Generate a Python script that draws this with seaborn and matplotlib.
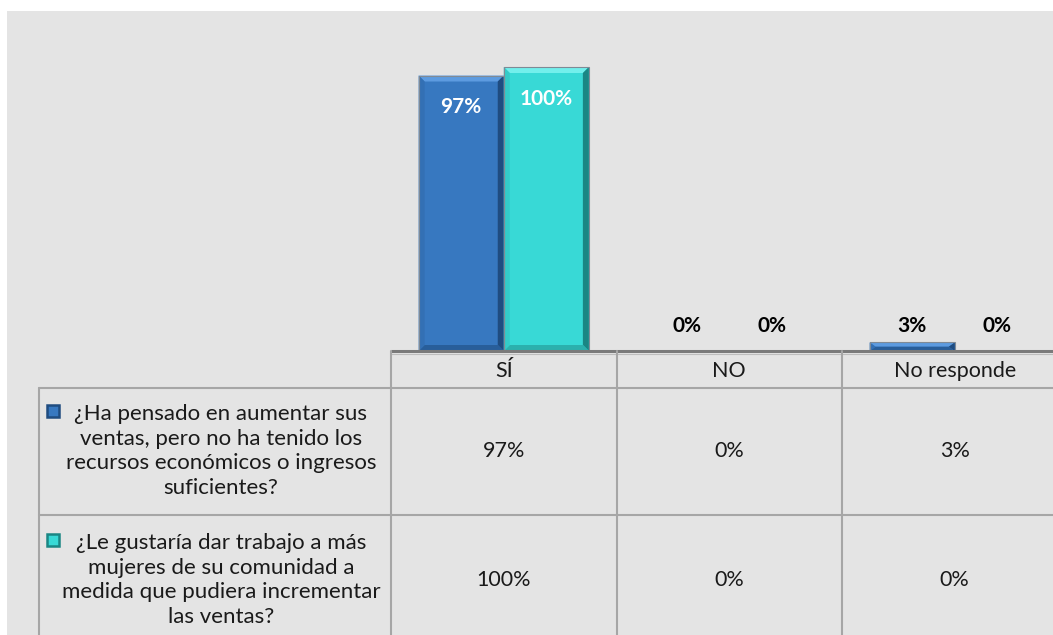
import matplotlib
matplotlib.use("Agg")
import matplotlib.pyplot as plt
from matplotlib.patches import Rectangle, Polygon
import seaborn as sns
import pandas as pd

# ---- data ----
categories = ["SÍ", "NO", "No responde"]
series_names = [
    "¿Ha pensado en aumentar sus\nventas, pero no ha tenido los\nrecursos económicos o ingresos\nsuficientes?",
    "¿Le gustaría dar trabajo a más\nmujeres de su comunidad a\nmedida que pudiera incrementar\nlas ventas?",
]
serie1 = [0.97, 0.00, 0.03]
serie2 = [1.00, 0.00, 0.00]

sns.set_theme(style="white")
plt.rcParams["font.family"] = ["Lato", "DejaVu Sans"]

blue, teal = "#3778c0", "#38d9d6"
shades = {
    blue: dict(top="#5d9be0", right="#1f4c80", bottom="#285e9a", left="#3370b4"),
    teal: dict(top="#72efec", right="#1a8684", bottom="#2bb0ad", left="#33cbc8"),
}

W, H = 1053, 635
fig = plt.figure(figsize=(W / 100, H / 100), dpi=100, facecolor="white")
fx = lambda px: px / W
fy = lambda py: 1 - py / H

# grey panel
fig.patches.append(Rectangle((fx(7), 0), 1 - fx(7), fy(11), transform=fig.transFigure,
                             facecolor="#e4e4e4", edgecolor="none", zorder=-10))

cat_w = 225.5
y_px = 284.0
ax = fig.add_axes([fx(391), fy(351), 3 * cat_w / W, 1.2 * y_px / H])
df = pd.DataFrame({
    "cat": categories * 2,
    "val": serie1 + serie2,
    "serie": [series_names[0]] * 3 + [series_names[1]] * 3,
})
sns.barplot(data=df, x="cat", y="val", hue="serie", palette=[blue, teal], width=0.755,
            saturation=1, ax=ax, legend=False, linewidth=0, dodge=True)
ax.set_xlim(-0.5, 2.5)
ax.set_ylim(0, 1.2)
ax.axis("off")
ax.patch.set_alpha(0)

# bevel shading derived from bar geometry
bev_x = 6 / cat_w
bev_y = 6 / y_px
for cont, col in zip(ax.containers, [blue, teal]):
    sh = shades[col]
    for bar in cont:
        x0, w, h = bar.get_x(), bar.get_width(), bar.get_height()
        if h <= 0:
            continue
        x1 = x0 + w
        by = min(bev_y, h / 2)
        bx = bev_x
        polys = [
            ([(x0, h), (x1, h), (x1 - bx, h - by), (x0 + bx, h - by)], sh["top"]),
            ([(x1, h), (x1, 0), (x1 - bx, by), (x1 - bx, h - by)], sh["right"]),
            ([(x0, 0), (x1, 0), (x1 - bx, by), (x0 + bx, by)], sh["bottom"]),
            ([(x0, 0), (x0, h), (x0 + bx, h - by), (x0 + bx, by)], sh["left"]),
        ]
        for pts, c in polys:
            ax.add_patch(Polygon(pts, closed=True, facecolor=c, edgecolor="none", zorder=3))
        ax.add_patch(Rectangle((x0, 0), w, h, facecolor="none", edgecolor="#7f8a96",
                               linewidth=0.8, zorder=4))
        cx = x0 + w / 2
        lab = f"{round(h * 100):d}%"
        if h > 0.5:
            ax.text(cx, h - 0.112, lab, ha="center", va="center", color="white",
                    fontsize=15, fontweight="bold", zorder=5)
    for bar in cont:
        h = bar.get_height()
        if h <= 0.5:
            ax.text(bar.get_x() + bar.get_width() / 2, 0.088, f"{round(h * 100):d}%",
                    ha="center", va="center", color="black", fontsize=15,
                    fontweight="bold", zorder=5)

# ---- data table ----
tab = fig.add_axes([0, 0, 1, 1])
tab.set_xlim(0, W)
tab.set_ylim(H, 0)
tab.axis("off")
tab.patch.set_alpha(0)
lc = "#a6a6a6"
col_edges = [391 + i * cat_w for i in range(4)]
tab.plot([391, W], [351, 351], color="#7a7a7a", lw=2.2, solid_capstyle="butt")
tab.plot([391, W], [353.5, 353.5], color="#bdbdbd", lw=0.8)
for yy in [387.5, 515]:
    tab.plot([39, W], [yy, yy], color=lc, lw=1.5)
tab.plot([39, 39], [387.5, H], color=lc, lw=1.5)
for xx in col_edges[:3]:
    tab.plot([xx, xx], [351, H], color=lc, lw=1.5)

centers = [391 + cat_w * (i + 0.5) for i in range(3)]
for c, cx in zip(categories, centers):
    tab.text(cx, 371, c, ha="center", va="center", fontsize=15.5, color="#1a1a1a")

row_y = [451, 580]
for vals, ry, name, col in zip([serie1, serie2], row_y, series_names, [blue, teal]):
    for v, cx in zip(vals, centers):
        tab.text(cx, ry, f"{round(v * 100):d}%", ha="center", va="center",
                 fontsize=15.5, color="#1a1a1a")
    tab.text(221, ry, name, ha="center", va="center", fontsize=16, color="#1a1a1a",
             linespacing=1.3)
    ky = ry - 40
    sh = shades[col]
    tab.add_patch(Rectangle((47, ky - 6), 12, 12, facecolor=col, edgecolor=sh["right"],
                            linewidth=1.8))

fig.savefig("out.png", dpi=100, facecolor="white")
